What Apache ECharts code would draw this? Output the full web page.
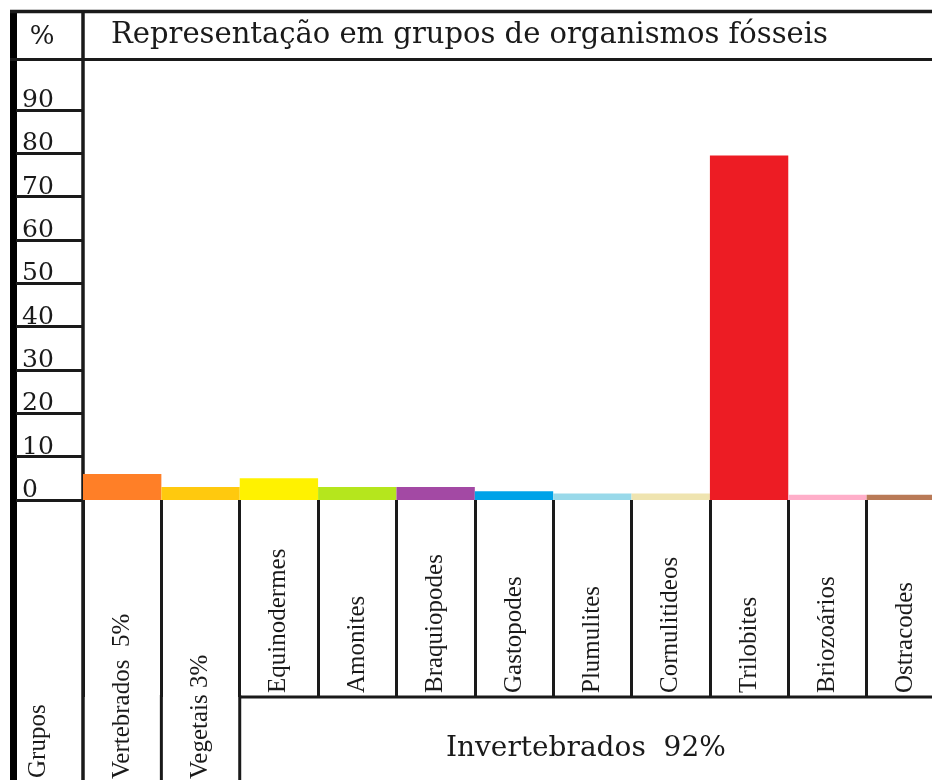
<!DOCTYPE html>
<html><head><meta charset="utf-8">
<script src="https://cdn.jsdelivr.net/npm/echarts@6/dist/echarts.min.js"></script>
<style>html,body{margin:0;padding:0;background:#fff}#c{width:932px;height:780px}</style>
</head><body><div id="c"></div>
<script>
const chartTitle = 'Representação em grupos de organismos fósseis';
const categories = ['Vertebrados  5%','Vegetais 3%','Equinodermes','Amonites','Braquiopodes','Gastopodes','Plumulites','Cornulitideos','Trilobites','Briozoários','Ostracodes'];
const invertebrate = [false,false,true,true,true,true,true,true,true,true,true];
const values = [6,3,5,3,3,2,1.5,1.5,79.5,1.2,1.2];
const colors = ['#FF7F27','#FFC90E','#FFF200','#B5E61D','#A349A4','#00A2E8','#99D9EA','#EFE4B0','#ED1C24','#FFAEC9','#B97A57'];
const yTicks = [0,10,20,30,40,50,60,70,80,90];
const groupLabel = 'Grupos';
const unitLabel = '%';
const invLabel = 'Invertebrados  92%';

const INK = '#1a1a1a';
const chart = echarts.init(document.getElementById('c'), null, {renderer:'canvas'});
const tickLen = 197;
const option = {
  animation:false,
  backgroundColor:'#fff',
  title:{text:chartTitle,left:106,top:16,textStyle:{fontFamily:'DejaVu Serif',fontSize:29,fontWeight:'normal',color:INK}},
  grid:{left:83,top:66.67,width:862,height:433.33,outerBoundsMode:'none',containLabel:false},
  xAxis:{type:'category',data:categories,
    axisLine:{show:false},
    axisTick:{show:true,alignWithLabel:false,length:tickLen,lineStyle:{color:INK,width:3}},
    axisLabel:{interval:0,rotate:90,align:'left',verticalAlign:'middle',margin:279,
      fontFamily:'Liberation Serif',fontSize:25,color:INK,
      formatter:(v,i)=> invertebrate[i] ? '{i|'+v+'}' : '{o|'+v+'}',
      rich:{i:{padding:[0,0,0,86],fontFamily:'Liberation Serif',fontSize:25,color:INK},
            o:{fontFamily:'Liberation Serif',fontSize:25,color:INK}}}
  },
  yAxis:{type:'value',min:0,max:100,interval:10,
    axisLine:{show:false},splitLine:{show:false},
    axisTick:{show:true,customValues:yTicks,length:67,lineStyle:{color:INK,width:3}},
    axisLabel:{customValues:yTicks,align:'left',verticalAlign:'bottom',margin:61,lineHeight:19,
      fontFamily:'DejaVu Serif',fontSize:25,color:INK}
  },
  series:[{type:'bar',barCategoryGap:'0%',barWidth:'100%',
    data:values.map((v,i)=>({value:v,itemStyle:{color:colors[i]}}))}],
  graphic:[]
};
chart.setOption(option);

const c0 = chart.convertToPixel({xAxisIndex:0}, categories[0]);
const c1 = chart.convertToPixel({xAxisIndex:0}, categories[1]);
const band = c1 - c0;
const bnd = k => c0 - band/2 + k*band;
const y0 = chart.convertToPixel({yAxisIndex:0}, 0);
const yBottomRow = y0 + tickLen;
const ls = {stroke:INK,lineWidth:3};
const g = [
  {type:'rect',shape:{x:10,y:10,width:7,height:770},style:{fill:'#000'}},
  {type:'line',shape:{x1:10,y1:11.5,x2:932,y2:11.5},style:{stroke:INK,lineWidth:3.5}},
  {type:'line',shape:{x1:10,y1:59.5,x2:932,y2:59.5},style:{stroke:INK,lineWidth:3}},
  {type:'line',shape:{x1:bnd(0),y1:10,x2:bnd(0),y2:780},style:{stroke:INK,lineWidth:3.5}},
  {type:'line',shape:{x1:bnd(1),y1:yBottomRow-2,x2:bnd(1),y2:780},style:ls},
  {type:'line',shape:{x1:bnd(2),y1:yBottomRow-2,x2:bnd(2),y2:780},style:ls},
  {type:'line',shape:{x1:bnd(2),y1:yBottomRow,x2:932,y2:yBottomRow},style:ls},
  {type:'text',x:42,y:37,style:{text:unitLabel,fontFamily:'DejaVu Serif',fontSize:26,fill:INK,align:'center',verticalAlign:'middle'}},
  {type:'text',x:38,y:778,rotation:Math.PI/2,style:{text:groupLabel,fontFamily:'Liberation Serif',fontSize:25,fill:INK,align:'left',verticalAlign:'middle'}},
  {type:'text',x:(bnd(2)+932)/2,y:749,style:{text:invLabel,fontFamily:'DejaVu Serif',fontSize:28,fill:INK,align:'center',verticalAlign:'middle'}}
];
chart.setOption({graphic:g});
</script></body></html>
